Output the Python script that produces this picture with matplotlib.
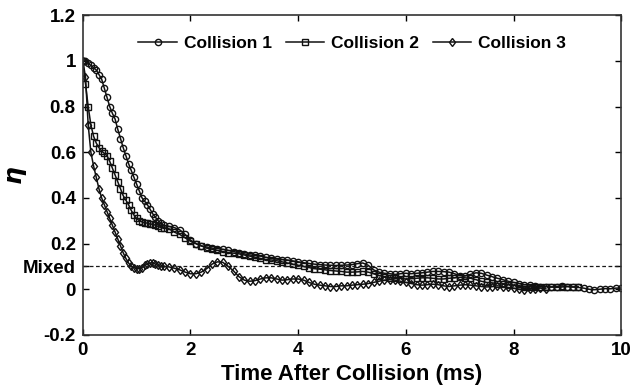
import matplotlib.pyplot as plt
import numpy as np

plt.rcParams['font.family'] = ['Liberation Sans', 'DejaVu Sans']
plt.rcParams['font.weight'] = 'bold'

# time grid: 0.05 ms steps up to 1.5 ms, then 0.1 ms steps
t_fine = np.round(np.arange(0, 1.501, 0.05), 2)

# Collision 1 (circles)
c1_early = [1.0, 1.0, 0.99, 0.98, 0.97, 0.96, 0.94, 0.92, 0.88, 0.84, 0.80,
            0.77, 0.745, 0.70, 0.66, 0.62, 0.585, 0.55, 0.52, 0.49, 0.46,
            0.43, 0.40, 0.385, 0.37, 0.35, 0.33, 0.315, 0.30, 0.29, 0.28]
c1_late = [0.275, 0.27, 0.26, 0.24, 0.215, 0.20, 0.19, 0.185, 0.18, 0.178,
           0.175, 0.17, 0.165, 0.16, 0.155, 0.15, 0.148, 0.145, 0.14, 0.135,
           0.132, 0.13, 0.128, 0.124, 0.12, 0.116, 0.113, 0.11, 0.108, 0.106,
           0.105, 0.104, 0.105, 0.106, 0.108, 0.112, 0.115, 0.105, 0.085, 0.075,
           0.07, 0.068, 0.065, 0.068, 0.07, 0.068, 0.07, 0.072, 0.075, 0.078,
           0.078, 0.077, 0.075, 0.068, 0.06, 0.058, 0.065, 0.072, 0.07, 0.062,
           0.055, 0.048, 0.042, 0.035, 0.03, 0.025, 0.02, 0.018, 0.015, 0.012,
           0.012, 0.01, 0.012, 0.015, 0.012, 0.01, 0.008, 0.005, 0.0, -0.002,
           0.0, 0.003, 0.002, 0.005, 0.005]

# Collision 2 (squares)
c2_early = [1.0, 0.90, 0.80, 0.72, 0.67, 0.64, 0.62, 0.605, 0.595, 0.585, 0.56,
            0.53, 0.50, 0.47, 0.44, 0.41, 0.39, 0.37, 0.345, 0.325, 0.31,
            0.30, 0.295, 0.29, 0.29, 0.285, 0.285, 0.28, 0.275, 0.27, 0.27]
c2_late = [0.265, 0.25, 0.24, 0.225, 0.21, 0.20, 0.19, 0.18, 0.175, 0.17,
           0.165, 0.16, 0.158, 0.155, 0.15, 0.145, 0.14, 0.135, 0.13, 0.128,
           0.125, 0.12, 0.115, 0.11, 0.105, 0.10, 0.095, 0.09, 0.088, 0.085,
           0.082, 0.08, 0.078, 0.075, 0.075, 0.076, 0.078, 0.075, 0.068, 0.06,
           0.055, 0.05, 0.048, 0.047, 0.045, 0.046, 0.048, 0.05, 0.05, 0.048,
           0.045, 0.045, 0.048, 0.05, 0.052, 0.05, 0.048, 0.042, 0.035, 0.03,
           0.028, 0.025, 0.022, 0.02, 0.018, 0.015, 0.012, 0.01, 0.008, 0.01,
           0.012, 0.01, 0.008, 0.01, 0.012, 0.01, 0.012]

# Collision 3 (diamonds)
c3_early = [1.0, 0.93, 0.72, 0.60, 0.54, 0.49, 0.44, 0.40, 0.37, 0.34, 0.31,
            0.28, 0.25, 0.22, 0.19, 0.16, 0.135, 0.115, 0.10, 0.095, 0.09,
            0.09, 0.095, 0.105, 0.11, 0.115, 0.115, 0.11, 0.105, 0.10, 0.10]
c3_late = [0.098, 0.092, 0.085, 0.075, 0.068, 0.068, 0.075, 0.09, 0.11, 0.12,
           0.118, 0.10, 0.08, 0.055, 0.04, 0.035, 0.038, 0.045, 0.05, 0.05,
           0.045, 0.04, 0.042, 0.045, 0.045, 0.04, 0.03, 0.022, 0.018, 0.015,
           0.012, 0.012, 0.015, 0.015, 0.018, 0.02, 0.022, 0.025, 0.03, 0.035,
           0.04, 0.042, 0.04, 0.035, 0.03, 0.025, 0.02, 0.018, 0.02, 0.022,
           0.02, 0.015, 0.012, 0.015, 0.018, 0.02, 0.018, 0.015, 0.012, 0.01,
           0.012, 0.015, 0.012, 0.008, 0.005, 0.0, -0.002, 0.0, 0.003, 0.005,
           0.002]

series = [("Collision 1", c1_early + c1_late, 'o'),
          ("Collision 2", c2_early + c2_late, 's'),
          ("Collision 3", c3_early + c3_late, 'd')]

mixed_level = 0.1
yticks = [-0.2, 0, 0.1, 0.2, 0.4, 0.6, 0.8, 1.0, 1.2]
ytick_labels = ['-0.2', '0', 'Mixed', '0.2', '0.4', '0.6', '0.8', '1', '1.2']
xticks = [0, 2, 4, 6, 8, 10]

fig = plt.figure(figsize=(6.32, 3.89), dpi=100)
ax = fig.add_axes([0.131, 0.139, 0.852, 0.822])

for name, vals, mk in series:
    n_late = len(vals) - len(t_fine)
    t = np.concatenate([t_fine, np.round(1.6 + 0.1 * np.arange(n_late), 2)])
    ax.plot(t, vals, marker=mk, color='#111111', lw=1.1, ms=4.5,
            mfc='none', mew=1.0, label=name)

ax.axhline(mixed_level, ls='--', lw=0.9, color='#1a1a1a', dashes=(3, 2))

ax.set_xlim(0, 10)
ax.set_ylim(-0.2, 1.2)
ax.set_xticks(xticks)
ax.set_xticklabels([str(x) for x in xticks])
ax.set_yticks(yticks)
ax.set_yticklabels(ytick_labels)
ax.tick_params(direction='in', top=True, right=True, labelsize=13.5, length=4,
               width=1, pad=5)
for s in ax.spines.values():
    s.set_linewidth(1.2)
    s.set_color('#333333')

ax.set_xlabel('Time After Collision (ms)', fontsize=16, fontweight='bold',
              labelpad=4)
ax.set_ylabel(r'$\eta$', fontsize=18)
ax.yaxis.set_label_coords(-0.1, 0.5)

ax.legend(loc='upper center', ncol=3, frameon=False, fontsize=12.5,
          handlelength=2.2, columnspacing=0.8, handletextpad=0.4,
          bbox_to_anchor=(0.5, 1.0), borderaxespad=0.8)

fig.savefig('out.png', dpi=100)
